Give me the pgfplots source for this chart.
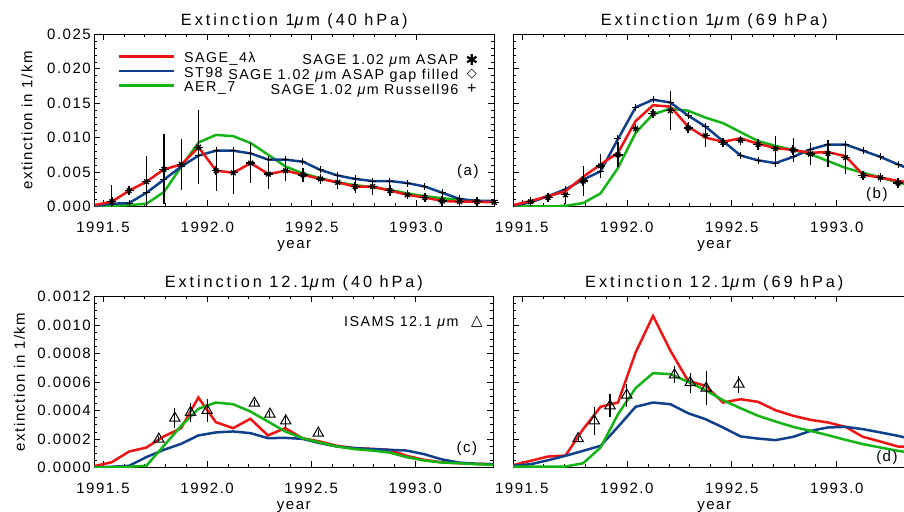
\documentclass[border=0pt]{standalone}
\usepackage{fontspec}
\setmainfont{Liberation Sans}[LetterSpace=10]
\newfontfamily\ttlfont{Liberation Sans}[LetterSpace=18]
\newfontfamily\symfont{DejaVu Sans}
\usepackage{pgfplots}
\pgfplotsset{compat=1.18}
\usepackage{pgfplotstable}

\definecolor{cred}{RGB}{238,20,20}
\definecolor{cblue}{RGB}{16,64,140}
\definecolor{cgreen}{RGB}{20,180,20}

% monthly means, 1 um extinction at 40 hPa
\pgfplotstableread{
x y e
1991.458 0.0002 0.0003
1991.542 0.0007 0.0024
1991.625 0.0023 0.0006
1991.708 0.0036 0.0038
1991.792 0.0054 0.0051
1991.875 0.0061 0.0037
1991.958 0.0086 0.0054
1992.042 0.0052 0.0030
1992.125 0.0049 0.0031
1992.208 0.0063 0.0029
1992.292 0.0047 0.0021
1992.375 0.0052 0.0015
1992.458 0.0046 0.0010
1992.542 0.0040 0.0007
1992.625 0.0035 0.0009
1992.708 0.0029 0.0010
1992.792 0.0029 0.0012
1992.875 0.0023 0.0008
1992.958 0.0017 0.0005
1993.042 0.0013 0.0004
1993.125 0.0008 0.0004
1993.208 0.0007 0.0004
1993.292 0.0007 0.0004
1993.375 0.0006 0.0003
}\asapA
\pgfplotstableread{
x y
1991.458 0.0001
1991.542 0.0004
1991.625 0.0005
1991.708 0.0020
1991.792 0.0039
1991.875 0.0058
1991.958 0.0074
1992.042 0.0081
1992.125 0.0081
1992.208 0.0077
1992.292 0.0068
1992.375 0.0068
1992.458 0.0065
1992.542 0.0053
1992.625 0.0045
1992.708 0.0040
1992.792 0.0037
1992.875 0.0037
1992.958 0.0034
1993.042 0.0029
1993.125 0.0020
1993.208 0.0011
1993.292 0.0008
1993.375 0.0008
}\stA
\pgfplotstableread{
x y
1991.458 0.0001
1991.542 0.0001
1991.625 0.0002
1991.708 0.0004
1991.792 0.0021
1991.875 0.0058
1991.958 0.0093
1992.042 0.0104
1992.125 0.0102
1992.208 0.0092
1992.292 0.0075
1992.375 0.0058
1992.458 0.0048
1992.542 0.0041
1992.625 0.0035
1992.708 0.0031
1992.792 0.0028
1992.875 0.0024
1992.958 0.0019
1993.042 0.0015
1993.125 0.0012
1993.208 0.0010
1993.292 0.0008
1993.375 0.0007
}\aerA

% 1 um extinction at 69 hPa
\pgfplotstableread{
x y e
1991.458 0.0002 0.0003
1991.542 0.0007 0.0004
1991.625 0.0013 0.0004
1991.708 0.0017 0.0013
1991.792 0.0037 0.0022
1991.875 0.0059 0.0017
1991.958 0.0075 0.0018
1992.042 0.0113 0.0006
1992.125 0.0135 0.0006
1992.208 0.0139 0.0028
1992.292 0.0114 0.0008
1992.375 0.0103 0.0017
1992.458 0.0093 0.0006
1992.542 0.0096 0.0005
1992.625 0.0090 0.0008
1992.708 0.0084 0.0018
1992.792 0.0082 0.0018
1992.875 0.0076 0.0016
1992.958 0.0077 0.0020
1993.042 0.0071 0.0024
1993.125 0.0045 0.0005
1993.208 0.0042 0.0004
1993.292 0.0034 0.0004
1993.375 0.0032 0.0004
}\asapB
\pgfplotstableread{
x y
1991.458 0.0002
1991.542 0.0008
1991.625 0.0015
1991.708 0.0022
1991.792 0.0043
1991.875 0.0061
1991.958 0.0078
1992.042 0.0124
1992.125 0.0147
1992.208 0.0145
1992.292 0.0116
1992.375 0.0100
1992.458 0.0094
1992.542 0.0099
1992.625 0.0091
1992.708 0.0085
1992.792 0.0082
1992.875 0.0078
1992.958 0.0079
1993.042 0.0073
1993.125 0.0046
1993.208 0.0042
1993.292 0.0037
1993.375 0.0034
}\sageB
\pgfplotstableread{
x y
1991.458 0.0001
1991.542 0.0006
1991.625 0.0015
1991.708 0.0025
1991.792 0.0039
1991.875 0.0051
1991.958 0.0098
1992.042 0.0144
1992.125 0.0155
1992.208 0.0151
1992.292 0.0132
1992.375 0.0116
1992.458 0.0095
1992.542 0.0074
1992.625 0.0067
1992.708 0.0063
1992.792 0.0072
1992.875 0.0083
1992.958 0.0090
1993.042 0.0090
1993.125 0.0081
1993.208 0.0072
1993.292 0.0061
1993.375 0.0051
}\stB
\pgfplotstableread{
x y
1991.458 0.0000
1991.542 0.0000
1991.625 0.0000
1991.708 0.0001
1991.792 0.0005
1991.875 0.0019
1991.958 0.0056
1992.042 0.0107
1992.125 0.0134
1992.208 0.0142
1992.292 0.0139
1992.375 0.0129
1992.458 0.0121
1992.542 0.0108
1992.625 0.0095
1992.708 0.0088
1992.792 0.0082
1992.875 0.0076
1992.958 0.0066
1993.042 0.0056
1993.125 0.0049
1993.208 0.0042
1993.292 0.0035
1993.375 0.0029
}\aerB

% 12.1 um extinction at 40 hPa
\pgfplotstableread{
x y
1991.458 0.000010
1991.542 0.000037
1991.625 0.000112
1991.708 0.000140
1991.792 0.000218
1991.875 0.000276
1991.958 0.000491
1992.042 0.000318
1992.125 0.000276
1992.208 0.000342
1992.292 0.000225
1992.375 0.000276
1992.458 0.000206
1992.542 0.000182
1992.625 0.000152
1992.708 0.000136
1992.792 0.000131
1992.875 0.000124
1992.958 0.000082
1993.042 0.000054
1993.125 0.000037
1993.208 0.000030
1993.292 0.000026
1993.375 0.000023
}\sageC
\pgfplotstableread{
x y
1991.458 0.000002
1991.542 0.000005
1991.625 0.000012
1991.708 0.000073
1991.792 0.000124
1991.875 0.000166
1991.958 0.000225
1992.042 0.000246
1992.125 0.000253
1992.208 0.000241
1992.292 0.000206
1992.375 0.000208
1992.458 0.000201
1992.542 0.000171
1992.625 0.000147
1992.708 0.000136
1992.792 0.000129
1992.875 0.000124
1992.958 0.000119
1993.042 0.000094
1993.125 0.000058
1993.208 0.000035
1993.292 0.000026
1993.375 0.000023
}\stC
\pgfplotstableread{
x y
1991.458 0.000000
1991.542 0.000002
1991.625 0.000005
1991.708 0.000012
1991.792 0.000152
1991.875 0.000292
1991.958 0.000412
1992.042 0.000456
1992.125 0.000444
1992.208 0.000393
1992.292 0.000323
1992.375 0.000253
1992.458 0.000206
1992.542 0.000175
1992.625 0.000147
1992.708 0.000129
1992.792 0.000119
1992.875 0.000105
1992.958 0.000073
1993.042 0.000049
1993.125 0.000035
1993.208 0.000030
1993.292 0.000023
1993.375 0.000019
}\aerC
\pgfplotstableread{
x y e
1991.768 0.000199 0.00002
1991.845 0.000346 0.00007
1991.920 0.000386 0.00007
1992.000 0.000400 0.00008
1992.227 0.000451 0.00002
1992.302 0.000374 0.00002
1992.378 0.000327 0.00005
1992.534 0.000241 0.00002
}\isamsC

% 12.1 um extinction at 69 hPa
\pgfplotstableread{
x y
1991.458 0.000016
1991.542 0.000047
1991.625 0.000077
1991.708 0.000084
1991.792 0.000269
1991.875 0.000426
1991.958 0.000456
1992.042 0.000807
1992.125 0.001064
1992.208 0.000819
1992.292 0.000608
1992.375 0.000573
1992.458 0.000456
1992.542 0.000479
1992.625 0.000461
1992.708 0.000402
1992.792 0.000363
1992.875 0.000334
1992.958 0.000316
1993.042 0.000285
1993.125 0.000215
1993.208 0.000182
1993.292 0.000147
1993.375 0.000147
}\sageD
\pgfplotstableread{
x y
1991.458 0.000012
1991.542 0.000023
1991.625 0.000051
1991.708 0.000082
1991.792 0.000117
1991.875 0.000152
1991.958 0.000285
1992.042 0.000426
1992.125 0.000456
1992.208 0.000444
1992.292 0.000381
1992.375 0.000339
1992.458 0.000281
1992.542 0.000218
1992.625 0.000203
1992.708 0.000192
1992.792 0.000215
1992.875 0.000257
1992.958 0.000281
1993.042 0.000285
1993.125 0.000269
1993.208 0.000246
1993.292 0.000222
1993.375 0.000192
}\stD
\pgfplotstableread{
x y
1991.458 0.000007
1991.542 0.000007
1991.625 0.000007
1991.708 0.000007
1991.792 0.000030
1991.875 0.000140
1991.958 0.000374
1992.042 0.000557
1992.125 0.000662
1992.208 0.000655
1992.292 0.000601
1992.375 0.000543
1992.458 0.000472
1992.542 0.000416
1992.625 0.000363
1992.708 0.000323
1992.792 0.000285
1992.875 0.000257
1992.958 0.000227
1993.042 0.000194
1993.125 0.000164
1993.208 0.000140
1993.292 0.000117
1993.375 0.000098
}\aerD
\pgfplotstableread{
x y e
1991.768 0.000203 0.00002
1991.845 0.000327 0.00010
1991.920 0.000433 0.00008
1992.000 0.000508 0.00008
1992.227 0.000650 0.00006
1992.302 0.000596 0.00007
1992.378 0.000557 0.00012
1992.534 0.000585 0.00006
}\isamsD

\newcommand{\fs}[1]{\fontsize{#1bp}{#1bp}\selectfont}
% axes run in years since 1991 and in scaled extinction units,
% which keeps the error bars inside TeX's dimension range
\newcommand{\X}{\thisrow{x}-1991}

\pgfplotsset{
  idl/.style={
    scale only axis, anchor=south west,
    xmin=0.458, xmax=2.375,
    xtick={0.5,1,1.5,2}, xticklabels={1991.5,1992.0,1992.5,1993.0},
    minor x tick num=4,
    tick align=inside, tick pos=both,
    major tick length=6bp, minor tick length=3bp,
    every tick/.style={black, line width=0.6bp},
    axis line style={line width=0.8bp},
    scaled x ticks=false, scaled y ticks=false,
    ticklabel style={font=\fs{15}},
    xticklabel style={anchor=base, yshift=-26bp},
    xlabel={year},
    every axis x label/.style={at={(0.5,0)}, anchor=base, yshift=-42bp, font=\fs{15}},
    every axis y label/.style={rotate=90, anchor=center, font=\fs{15}},
    every axis title/.style={at={(0.5,1)}, anchor=base, yshift=9bp, font=\ttlfont\fs{16.3}},
    clip mode=individual,
  },
  % top panels in units of 1e-3 /km
  top/.style={idl, height=172.2bp, ymin=0, ymax=25,
    ytick={0,5,10,15,20,25}, minor y tick num=4,
    yticklabels={0.000,0.005,0.010,0.015,0.020,0.025}},
  % bottom panels in units of 1e-4 /km
  bot/.style={idl, height=171bp, ymin=0, ymax=12,
    ytick={0,2,4,6,8,10,12}, minor y tick num=3,
    yticklabels={0.0000,0.0002,0.0004,0.0006,0.0008,0.0010,0.0012}},
  ln/.style={line width=2.5bp},
  astp/.style={only marks, black, mark=+, mark size=4.6bp, line width=1.4bp,
    error bars/.cd, y dir=both, y explicit, error mark=none,
    error bar style={line width=1.1bp, black}},
  astx/.style={only marks, black, mark=x, mark size=3.3bp, line width=1.4bp},
  tri/.style={only marks, black, mark=triangle, mark size=6bp, line width=1bp,
    error bars/.cd, y dir=both, y explicit, error mark=none,
    error bar style={line width=1.1bp, black}},
}

\begin{document}
\begin{tikzpicture}
\path[use as bounding box] (0bp,0bp) rectangle (904bp,512bp);

% (a)
\begin{axis}[top, at={(94.3bp,305.5bp)}, width=400bp,
  ylabel={extinction in 1/km},
  ylabel style={at={(axis description cs:-0.168,0.5)}},
  title={Extinction 1\textit{μ}m (40 hPa)},
  legend style={at={(0.058,0.893)}, anchor=north west, draw=none, fill=none,
    font=\fs{14.3}, inner sep=0pt, row sep=0pt,
    nodes={inner sep=0pt, text height=10bp, text depth=4.5bp}},
  legend cell align=left,
  legend image code/.code={\draw[#1] (0bp,3.5bp) -- (55bp,3.5bp); \path (64bp,0bp);}]
\addlegendimage{cred, ln}
\addlegendimage{cblue, ln}
\addlegendimage{cgreen, ln}
\legend{SAGE\_4λ, ST98, AER\_7}
\addplot[cgreen, ln] table[x expr=\X, y expr=\thisrow{y}*1e3] {\aerA};
\addplot[cblue, ln, mark=+, mark size=3.5bp, mark options={black, line width=1bp}] table[x expr=\X, y expr=\thisrow{y}*1e3] {\stA};
\addplot[cred, ln] table[x expr=\X, y expr=\thisrow{y}*1e3] {\asapA};
\addplot[astp] table[x expr=\X, y expr=\thisrow{y}*1e3, y error expr=\thisrow{e}*1e3] {\asapA};
\addplot[astx] table[x expr=\X, y expr=\thisrow{y}*1e3] {\asapA};
\node[font=\fs{14.3}, anchor=base east] at (rel axis cs:0.919,0.851) [yshift=-5bp] {SAGE 1.02 \textit{μ}m ASAP};
\node[font=\fs{14.3}, anchor=base east] at (rel axis cs:0.919,0.767) [yshift=-5bp] {SAGE 1.02 \textit{μ}m ASAP gap filled};
\node[font=\fs{14.3}, anchor=base east] at (rel axis cs:0.919,0.682) [yshift=-5bp] {SAGE 1.02 \textit{μ}m Russell96};
\node[font=\symfont\fs{15}] at (rel axis cs:0.944,0.851) {✱};
\node[font=\symfont\fs{13}] at (rel axis cs:0.944,0.767) {◇};
\node[font=\fs{16}] at (rel axis cs:0.944,0.682) {+};
\node[font=\fs{15}] at (rel axis cs:0.934,0.20) {(a)};
\end{axis}

% (b)
\begin{axis}[top, at={(513bp,305.5bp)}, width=402.5bp, yticklabels={},
  title={Extinction 1\textit{μ}m (69 hPa)}]
\addplot[cgreen, ln] table[x expr=\X, y expr=\thisrow{y}*1e3] {\aerB};
\addplot[cblue, ln, mark=+, mark size=3.5bp, mark options={black, line width=1bp}] table[x expr=\X, y expr=\thisrow{y}*1e3] {\stB};
\addplot[cred, ln] table[x expr=\X, y expr=\thisrow{y}*1e3] {\sageB};
\addplot[astp] table[x expr=\X, y expr=\thisrow{y}*1e3, y error expr=\thisrow{e}*1e3] {\asapB};
\addplot[astx] table[x expr=\X, y expr=\thisrow{y}*1e3] {\asapB};
\node[font=\fs{15}] at (rel axis cs:0.904,0.067) {(b)};
\end{axis}

% (c)
\begin{axis}[bot, at={(94.3bp,44.5bp)}, width=399bp,
  ylabel={extinction in 1/km},
  ylabel style={at={(axis description cs:-0.1875,0.5)}},
  title={Extinction 12.1\textit{μ}m (40 hPa)}]
\addplot[cred, ln] table[x expr=\X, y expr=\thisrow{y}*1e4] {\sageC};
\addplot[cblue, ln] table[x expr=\X, y expr=\thisrow{y}*1e4] {\stC};
\addplot[cgreen, ln] table[x expr=\X, y expr=\thisrow{y}*1e4] {\aerC};
\addplot[tri] table[x expr=\X, y expr=\thisrow{y}*1e4, y error expr=\thisrow{e}*1e4] {\isamsC};
\node[font=\fs{14.3}, anchor=base east] at (rel axis cs:0.9216,0.853) [yshift=-5bp] {ISAMS 12.1 \textit{μ}m};
\node[font=\symfont\fs{15}] at (rel axis cs:0.959,0.853) {△};
\node[font=\fs{15}] at (rel axis cs:0.934,0.108) {(c)};
\end{axis}

% (d)
\begin{axis}[bot, at={(513bp,44.5bp)}, width=402.5bp, yticklabels={},
  title={Extinction 12.1\textit{μ}m (69 hPa)}]
\addplot[cred, ln] table[x expr=\X, y expr=\thisrow{y}*1e4] {\sageD};
\addplot[cblue, ln] table[x expr=\X, y expr=\thisrow{y}*1e4] {\stD};
\addplot[cgreen, ln] table[x expr=\X, y expr=\thisrow{y}*1e4] {\aerD};
\addplot[tri] table[x expr=\X, y expr=\thisrow{y}*1e4, y error expr=\thisrow{e}*1e4] {\isamsD};
\node[font=\fs{15}] at (rel axis cs:0.929,0.056) {(d)};
\end{axis}
\end{tikzpicture}
\end{document}
